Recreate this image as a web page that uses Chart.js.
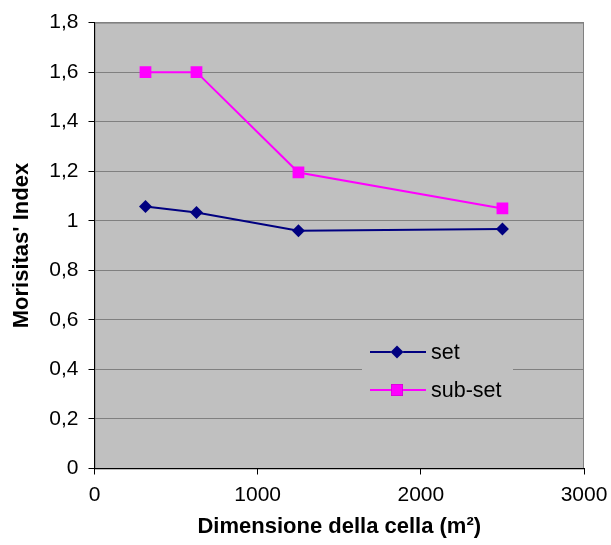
<!DOCTYPE html>
<html>
<head>
<meta charset="utf-8">
<title>Morisitas' Index</title>
<script src="https://cdn.jsdelivr.net/npm/chart.js@4/dist/chart.umd.min.js"></script>
<style>
  body { margin: 0; background: #fff; }
  canvas { display: block; }
</style>
</head>
<body>
<canvas id="chart" width="611" height="545"></canvas>
<script>
// cell sizes (m2) and Morisita index for the two sets
const cellSizes = [312.5, 625, 1250, 2500];
const setValues = [1.058, 1.033, 0.96, 0.967];
const subSetValues = [1.6, 1.6, 1.195, 1.05];
const xTicks = [0, 1000, 2000, 3000];
const yTicks = [0, 0.2, 0.4, 0.6, 0.8, 1, 1.2, 1.4, 1.6, 1.8];

const FONT = 'Arial, "Liberation Sans", sans-serif';
const PLOT_BG = '#C0C0C0';
const GRID = '#808080';

const toPoints = (vals) => cellSizes.map((x, i) => ({ x: x, y: vals[i] }));

// grey plot area with a thin grey frame (left/bottom get the black axis lines)
const plotBackground = {
  id: 'plotBackground',
  beforeDraw(chart) {
    const { ctx, chartArea: a } = chart;
    ctx.save();
    ctx.fillStyle = PLOT_BG;
    ctx.fillRect(a.left, a.top, a.right - a.left, a.bottom - a.top);
    ctx.strokeStyle = GRID;
    ctx.lineWidth = 1;
    ctx.strokeRect(a.left + 0.5, a.top + 0.5, a.right - a.left - 1, a.bottom - a.top);
    ctx.restore();
  }
};

// legend box sitting inside the plot, lower right
const insideLegend = {
  id: 'insideLegend',
  afterDatasetsDraw(chart) {
    const { ctx } = chart;
    const box = { x: 362, y: 330, w: 151, h: 78 };
    ctx.save();
    ctx.fillStyle = PLOT_BG;
    ctx.fillRect(box.x, box.y, box.w, box.h);
    const rows = [352, 390];
    chart.data.datasets.forEach((ds, i) => {
      const y = rows[i];
      ctx.strokeStyle = ds.borderColor;
      ctx.lineWidth = ds.borderWidth;
      ctx.beginPath();
      ctx.moveTo(370, y);
      ctx.lineTo(426, y);
      ctx.stroke();
      Chart.helpers.drawPoint(ctx, {
        pointStyle: ds.pointStyle,
        radius: ds.pointRadius,
        borderWidth: 0
      }, 397, y);
      ctx.fillStyle = ds.pointBackgroundColor;
      ctx.fill();
      ctx.fillStyle = '#000';
      ctx.font = '21.5px ' + FONT;
      ctx.textBaseline = 'middle';
      ctx.fillText(ds.label, 431, y + 1);
    });
    ctx.restore();
  }
};

new Chart(document.getElementById('chart'), {
  type: 'line',
  data: {
    datasets: [
      {
        label: 'set',
        data: toPoints(setValues),
        borderColor: '#000080',
        backgroundColor: '#000080',
        pointBackgroundColor: '#000080',
        pointBorderColor: '#000080',
        borderWidth: 2,
        pointStyle: 'rectRot',
        pointRadius: 6.5,
        pointBorderWidth: 0,
        tension: 0
      },
      {
        label: 'sub-set',
        data: toPoints(subSetValues),
        borderColor: '#FF00FF',
        backgroundColor: '#FF00FF',
        pointBackgroundColor: '#FF00FF',
        pointBorderColor: '#FF00FF',
        borderWidth: 2,
        pointStyle: 'rect',
        pointRadius: 8.3,
        pointBorderWidth: 0,
        tension: 0
      }
    ]
  },
  options: {
    responsive: false,
    animation: false,
    layout: { padding: { left: 0, top: 22, right: 27, bottom: 0 } },
    plugins: {
      legend: { display: false },
      tooltip: { enabled: false }
    },
    scales: {
      x: {
        type: 'linear',
        min: 0,
        max: 3000,
        afterBuildTicks: (scale) => { scale.ticks = xTicks.map(v => ({ value: v })); },
        afterFit: (scale) => {
          scale.height = 76.5;
          scale.paddingLeft = 0;
          scale.paddingRight = 0;
        },
        grid: { drawOnChartArea: false, tickLength: 6, tickColor: '#000' },
        border: { color: '#000', width: 1 },
        ticks: {
          color: '#000',
          padding: 8,
          maxRotation: 0,
          font: { family: FONT, size: 21 },
          callback: (v) => String(v)
        },
        title: {
          display: true,
          text: 'Dimensione della cella (m²)',
          color: '#000',
          font: { family: FONT, size: 22, weight: 'bold' },
          padding: { top: 0, bottom: 5 }
        }
      },
      y: {
        min: 0,
        max: 1.8,
        afterBuildTicks: (scale) => { scale.ticks = yTicks.map(v => ({ value: v })); },
        afterFit: (scale) => { scale.width = 94.5; },
        grid: { color: GRID, tickLength: 6, tickColor: '#000' },
        border: { color: '#000', width: 1 },
        ticks: {
          color: '#000',
          padding: 10,
          font: { family: FONT, size: 21 },
          callback: (v) => String(Math.round(v * 10) / 10).replace('.', ',')
        },
        title: {
          display: true,
          text: "Morisitas' Index",
          color: '#000',
          font: { family: FONT, size: 22, weight: 'bold' },
          padding: { top: 9, bottom: 0 }
        }
      }
    }
  },
  plugins: [plotBackground, insideLegend]
});
</script>
</body>
</html>
